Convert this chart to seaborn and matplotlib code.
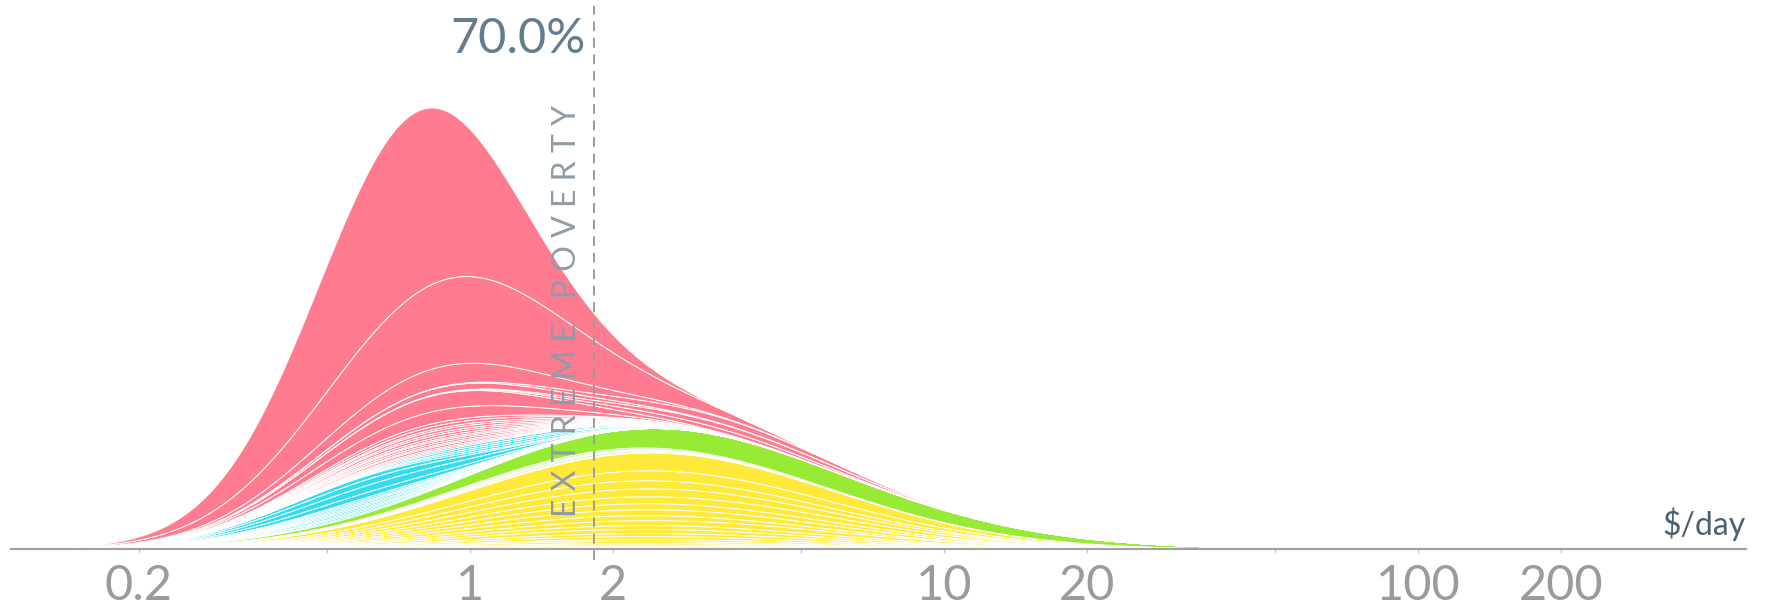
import numpy as np
import matplotlib
matplotlib.use("Agg")
import matplotlib.pyplot as plt
import seaborn as sns

# ---- data ----------------------------------------------------------------
# each country: mode income ($/day), spread (sd of log10 income), population (rel.)
# listed bottom -> top of the stack within each region

europe_income = [2.3, 2.1, 2.6, 2.2, 2.5, 2.0, 2.8, 2.3, 2.6, 2.2,
                 2.4, 2.7, 2.1, 2.5, 2.3, 2.6, 2.4, 2.2, 2.5, 2.5]
europe_spread = [0.38, 0.36, 0.40, 0.37, 0.39, 0.36, 0.40, 0.38, 0.39, 0.37,
                 0.38, 0.40, 0.37, 0.39, 0.38, 0.40, 0.38, 0.37, 0.39, 0.38]
europe_pop = [0.4, 0.4, 0.4, 0.55, 0.6, 0.7, 0.8, 1.1, 1.2, 1.5,
              1.5, 2.0, 1.85, 2.3, 2.3, 2.8, 3.0, 3.0, 3.9, 6.8]

americas_income = [1.0, 1.6, 1.26, 1.4, 1.8, 3.5]
americas_spread = [0.30, 0.32, 0.30, 0.30, 0.35, 0.45]
americas_pop = [0.36, 0.48, 0.3, 0.39, 0.52, 9.4]

africa_income = [0.6, 0.55, 0.66, 0.52, 0.63, 0.58, 0.68, 0.55, 0.6, 0.64,
                 0.6, 0.65, 0.63, 0.57, 1.1, 1.2, 1.0, 1.15]
africa_spread = [0.21, 0.20, 0.21, 0.20, 0.21, 0.21, 0.22, 0.20, 0.21, 0.21,
                 0.21, 0.21, 0.21, 0.21, 0.23, 0.23, 0.22, 0.24]
africa_pop = [0.3, 0.32, 0.3, 0.32, 0.34, 0.3, 0.36, 0.3, 0.34, 0.36,
              1.05, 1.47, 1.26, 0.84, 0.46, 0.46, 0.44, 0.48]

asia_income = [0.8, 0.87, 0.76, 0.91, 0.83, 0.8, 0.91, 0.85, 0.78, 0.89,
               0.83, 0.93, 0.85, 0.8,
               0.83, 0.89, 2.8, 3.5, 0.95, 3.2, 0.87,
               0.95, 0.74]
asia_spread = [0.23, 0.23, 0.22, 0.24, 0.23, 0.23, 0.24, 0.23, 0.23, 0.23,
               0.23, 0.24, 0.23, 0.23,
               0.23, 0.23, 0.25, 0.25, 0.24, 0.25, 0.23,
               0.25, 0.20]
asia_pop = [0.35, 0.35, 0.46, 0.35, 0.46, 0.46, 0.35, 0.46, 0.58, 0.46,
            0.58, 0.46, 0.69, 0.69,
            2.76, 3.7, 1.0, 1.25, 1.44, 1.5, 4.6,
            21.75, 36.4]

region_colors = {"europe": "#ffe93b", "americas": "#97eb35",
                 "africa": "#34dcef", "asia": "#ff7b8f"}

poverty_line = 1.83
poverty_share = "70.0%"
tick_values = [0.2, 1, 2, 10, 20, 100, 200]
tick_labels = ["0.2", "1", "2", "10", "20", "100", "200"]
minor_ticks = [0.5, 5, 50]

# ---- plot ------------------------------------------------------------------
sns.set_theme(style="white")
plt.rcParams["font.family"] = ["Lato", "DejaVu Sans"]

fig = plt.figure(figsize=(17.68, 6.06), dpi=100)
ax = fig.add_axes([11 / 1768, 57 / 606, 1735 / 1768, 543 / 606])

x = np.logspace(np.log10(0.1076), np.log10(492), 1500)
u = np.log10(x)

regions = [
    ("europe", europe_income, europe_spread, europe_pop),
    ("americas", americas_income, americas_spread, americas_pop),
    ("africa", africa_income, africa_spread, africa_pop),
    ("asia", asia_income, asia_spread, asia_pop),
]

# stack one band per country, white seams between them
base = np.zeros_like(x)
for name, inc, spr, pop in regions:
    for m, s, p in zip(inc, spr, pop):
        dens = p / s * np.exp(-(u - np.log10(m)) ** 2 / (2 * s * s))
        top = base + dens
        ax.fill_between(x, base, top, color=region_colors[name],
                        edgecolor="white", linewidth=0.7)
        base = top

ax.set_xscale("log")
ax.set_xlim(0.1076, 492)
ax.set_ylim(0, 543)
sns.despine(ax=ax, left=True, top=True, right=True)
ax.spines["bottom"].set_color("#a0a0a0")
ax.spines["bottom"].set_linewidth(1.5)
ax.set_yticks([])

ax.set_xticks(tick_values)
ax.set_xticklabels(tick_labels)
ax.set_xticks(minor_ticks, minor=True)
ax.set_xticklabels([], minor=True)
ax.tick_params(axis="x", which="major", length=3, width=1, color="#c8c8c8",
               pad=8, labelsize=35, labelcolor="#9b9b9b", direction="out",
               bottom=True)
ax.tick_params(axis="x", which="minor", length=3, width=1, color="#c8c8c8",
               bottom=True)

# extreme poverty line
ax.axvline(poverty_line, ymin=-0.02, ymax=1, color="#9a9a9a", lw=1.4,
           dashes=(5, 3.5), clip_on=False)
ax.text(poverty_line * 0.94, 238, "E X T R E M E   P O V E R T Y",
        rotation=90, ha="right", va="center", fontsize=23,
        color="#8e9ca6")
ax.text(poverty_line * 0.96, 510, poverty_share, ha="right", va="center",
        fontsize=35, color="#647d8e")
ax.text(492, 8, "$/day", ha="right", va="bottom", fontsize=23,
        color="#4d6070")

fig.savefig("out.png", dpi=100)
